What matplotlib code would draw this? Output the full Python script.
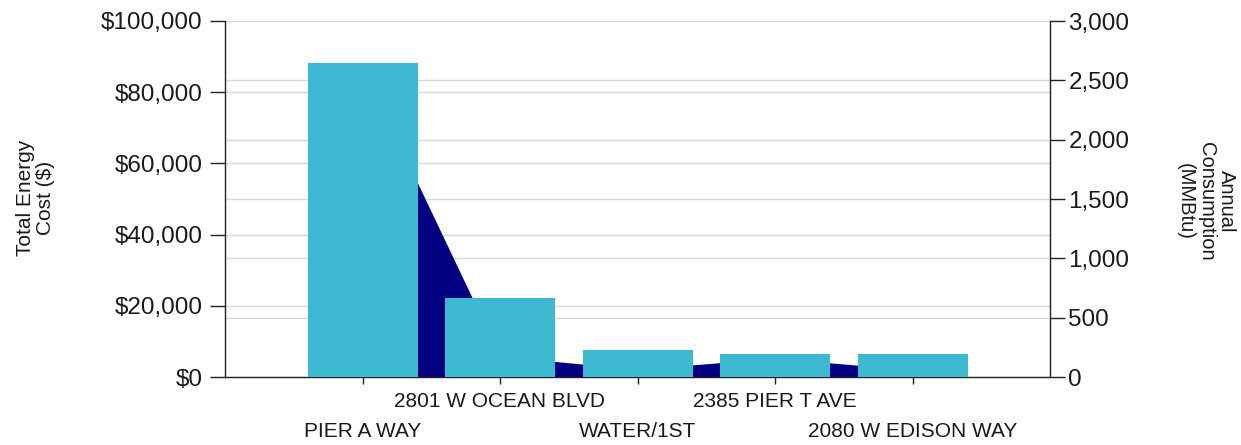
import matplotlib
matplotlib.use('Agg')
import matplotlib.pyplot as plt
from matplotlib.ticker import FuncFormatter
import numpy as np

# ---- data ----
sites = ["PIER A WAY", "2801 W OCEAN BLVD", "WATER/1ST", "2385 PIER T AVE", "2080 W EDISON WAY"]
total_cost = [88300, 22300, 7500, 6400, 6400]          # $ (bars, left axis)
annual_consumption = [2610, 175, 65, 158, 61]          # MMBtu (area, right axis)
cost_ticks = [0, 20000, 40000, 60000, 80000, 100000]
consumption_ticks = [0, 500, 1000, 1500, 2000, 2500, 3000]

plt.rcParams['font.family'] = ['Liberation Sans', 'DejaVu Sans']
TEXT = '#1a1a1a'
SPINE = '#222222'
GRID = '#d9d9d9'
BAR = '#3EB9D2'
AREA = '#000080'

W, H = 1241, 445
fig = plt.figure(figsize=(W / 100, H / 100), dpi=100)
ax = fig.add_axes([225 / W, 1 - 377 / H, 825 / W, 356 / H])
ax2 = ax.twinx()
ax.set_zorder(2)
ax.patch.set_visible(False)
ax2.set_zorder(1)

x = np.arange(1, len(sites) + 1)

# area (consumption) underneath
ax2.fill_between(x, 0, annual_consumption, color=AREA, linewidth=0, zorder=2)
# bars (cost) on top
ax.bar(x, total_cost, width=0.8, color=BAR, linewidth=0, zorder=3)

ax.set_xlim(0, len(sites) + 1)
ax.set_ylim(cost_ticks[0], cost_ticks[-1])
ax2.set_ylim(consumption_ticks[0], consumption_ticks[-1])

# ticks
ax.set_yticks(cost_ticks)
ax.yaxis.set_major_formatter(FuncFormatter(lambda v, p: f"${v:,.0f}"))
ax2.set_yticks(consumption_ticks)
ax2.yaxis.set_major_formatter(FuncFormatter(lambda v, p: f"{v:,.0f}"))

# grid lines for both scales, drawn beneath everything
ax2.set_yticks([c * consumption_ticks[-1] / cost_ticks[-1] for c in cost_ticks], minor=True)
ax2.grid(True, which='both', axis='y', color=GRID, linewidth=1.0, zorder=0)
ax2.set_axisbelow(True)
ax2.tick_params(axis='y', which='minor', length=0)
ax.grid(False)

# x tick labels in two staggered rows
ax.set_xticks(x[1::2], labels=sites[1::2])
ax.set_xticks(x[0::2], labels=sites[0::2], minor=True)
ax.tick_params(axis='x', which='both', length=5, width=1.0, color=SPINE,
               labelsize=15, labelcolor=TEXT, direction='out')
ax.tick_params(axis='x', which='major', pad=6)
ax.tick_params(axis='x', which='minor', pad=27.5)

ax.tick_params(axis='y', length=11, width=1.0, color=SPINE, pad=5,
               labelsize=17.5, labelcolor=TEXT)
ax2.tick_params(axis='y', which='major', length=11, width=1.0, color=SPINE, pad=2.2,
                labelsize=17.5, labelcolor=TEXT)

# spines
for s in ['top', 'right']:
    ax.spines[s].set_visible(False)
for s in ['top', 'left', 'bottom']:
    ax2.spines[s].set_visible(False)
for sp in [ax.spines['left'], ax.spines['bottom'], ax2.spines['right']]:
    sp.set_color(SPINE)
    sp.set_linewidth(1.0)

# axis labels
ax.set_ylabel("Total Energy\nCost ($)", fontsize=15, color=TEXT, linespacing=1.1)
ax.yaxis.label.set_verticalalignment('center')
ax.yaxis.label.set_horizontalalignment('center')
ax.yaxis.set_label_coords((35.4 - 225) / 825, (377 - 197.5) / 356)

ax2.set_ylabel("Annual\nConsumption\n(MMBtu)", fontsize=14.5, color=TEXT,
               rotation=-90, linespacing=1.1)
ax2.yaxis.label.set_verticalalignment('center')
ax2.yaxis.label.set_horizontalalignment('center')
ax2.yaxis.set_label_coords((1206 - 225) / 825, (377 - 201.5) / 356)

fig.savefig('out.png', dpi=100, facecolor='white')
